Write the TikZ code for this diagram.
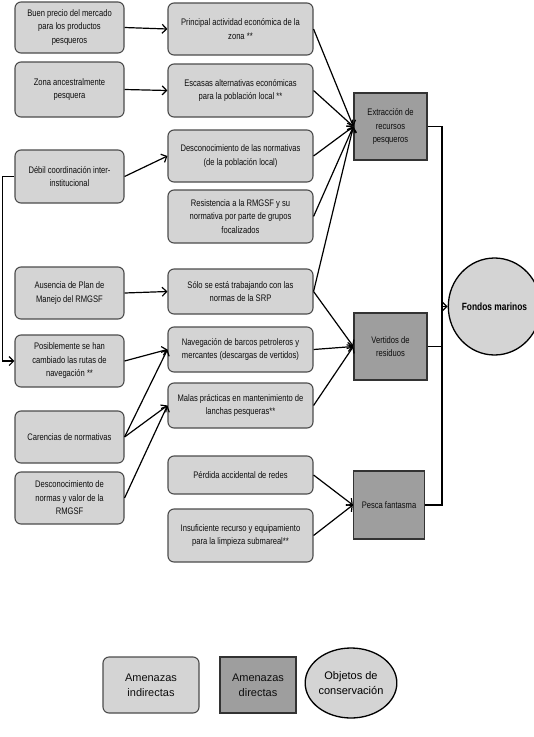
\documentclass[tikz,border=0pt]{standalone}
\usepackage{fontspec}
\setmainfont{Liberation Sans}
\newfontfamily\narrow[FakeStretch=0.8]{Liberation Sans}
\usepackage{tikz}
\usepackage{xcolor}
\usetikzlibrary{positioning,arrows.meta,shapes.geometric,calc}
\definecolor{grisclaro}{gray}{0.83}
\definecolor{grisoscuro}{gray}{0.62}

\begin{document}
\begin{tikzpicture}[x=1pt, y=-1pt,
    indirecta/.style={rectangle, rounded corners=6pt, draw=black!70, line width=1.1pt, fill=grisclaro, align=center, inner sep=1pt, text=black!95, font=\narrow\fontsize{9.5}{13.5}\selectfont},
    izq/.style={indirecta, minimum width=109pt, minimum height=52pt},
    med/.style={indirecta, minimum width=145pt, minimum height=52pt},
    directa/.style={rectangle, draw=black!80, line width=1.3pt, fill=grisoscuro, align=center, inner sep=1pt, minimum width=73pt, minimum height=67pt, text=black!95, font=\narrow\fontsize{9.5}{13.5}\selectfont},
    objeto/.style={ellipse, draw=black, line width=1.3pt, fill=grisclaro, align=center, inner sep=0pt},
    flecha/.style={line width=1.2pt, -{Straight Barb[length=4.5pt,width=9pt]}},
    linea/.style={line width=1.2pt}]
        \useasboundingbox (0,0) rectangle (534,737);

        % Amenazas indirectas (columna izquierda)
        \node[izq, minimum height=51pt] (buen) at (69.5,27.5) {Buen precio del mercado\\para los productos\\pesqueros};
        \node[izq, minimum height=55pt] (zona) at (69.5,89.5) {Zona ancestralmente\\pesquera};
        \node[izq, minimum height=53pt] (debil) at (69.5,176.5) {Débil coordinación inter-\\institucional};
        \node[izq] (ausencia) at (69.5,293) {Ausencia de Plan de\\Manejo del RMGSF};
        \node[izq] (posible) at (69.5,361) {Posiblemente se han\\cambiado las rutas de\\navegación **};
        \node[izq] (carencias) at (69.5,437) {Carencias de normativas};
        \node[izq] (desnormas) at (69.5,498) {Desconocimiento de\\normas y valor de la\\RMGSF};

        % Amenazas indirectas (columna central)
        \node[med] (principal) at (240.5,29) {Principal actividad económica de la\\zona **};
        \node[med, minimum height=53pt] (escasas) at (240.5,90.5) {Escasas alternativas económicas\\para la población local **};
        \node[med] (descon) at (240.5,156) {Desconocimiento de las normativas\\(de la población local)};
        \node[med, minimum height=53pt] (resist) at (240.5,216.5) {Resistencia a la RMGSF y su\\normativa por parte de grupos\\focalizados};
        \node[med, minimum height=45pt] (solo) at (240.5,291.5) {Sólo se está trabajando con las\\normas de la SRP};
        \node[med, minimum height=45pt] (naveg) at (240.5,349.5) {Navegación de barcos petroleros y\\mercantes (descargas de vertidos)};
        \node[med, minimum height=45pt] (malas) at (240.5,405.5) {Malas prácticas en mantenimiento de\\lanchas pesqueras**};
        \node[med, minimum height=38pt] (perdida) at (240.5,475) {Pérdida accidental de redes};
        \node[med, minimum height=53pt] (insuf) at (240.5,535.5) {Insuficiente recurso y equipamiento\\para la limpieza submareal**};

        % Amenazas directas
        \node[directa] (extrac) at (390.5,126.5) {Extracción de\\recursos\\pesqueros};
        \node[directa] (vertidos) at (390.5,346.5) {Vertidos de\\residuos};
        \node[directa, minimum width=71pt, minimum height=68pt] (pesca) at (389,505) {Pesca fantasma};

        % Objeto de conservacion
        \node[objeto, minimum width=75pt, minimum height=97pt, font=\narrow\bfseries\fontsize{10.5}{13}\selectfont] (fondos) at (494.5,306.5) {Fondos marinos};

        % Draw edges
        \draw[flecha] (buen.east) -- (principal.west);
        \draw[flecha] (zona.east) -- (escasas.west);
        \draw[flecha] (debil.east) -- (descon.west);
        \draw[flecha] (debil.west) -- ++(-12,0) |- (posible.west);
        \draw[flecha] (ausencia.east) -- (solo.west);
        \draw[flecha] (posible.east) -- (naveg.west);
        \draw[flecha] (carencias.east) -- (naveg.west);
        \draw[flecha] (carencias.east) -- (malas.west);
        \draw[flecha] (desnormas.east) -- (malas.west);

        \draw[flecha] (principal.east) -- (extrac.west);
        \draw[flecha] (escasas.east) -- (extrac.west);
        \draw[flecha] (descon.east) -- (extrac.west);
        \draw[flecha] (resist.east) -- (extrac.west);
        \draw[flecha] (solo.east) -- (extrac.west);
        \draw[flecha] (solo.east) -- (vertidos.west);
        \draw[flecha] (naveg.east) -- (vertidos.west);
        \draw[flecha] (malas.east) -- (vertidos.west);
        \draw[flecha] (perdida.east) -- (pesca.west);
        \draw[flecha] (insuf.east) -- (pesca.west);

        \coordinate (union) at (442,306.5);
        \draw[linea] (extrac.east) -| (union);
        \draw[linea] (vertidos.east) -| (union);
        \draw[linea] (pesca.east) -| (union);
        \draw[flecha] (union) -- (fondos.west);

        % Leyenda
        \node[indirecta, minimum width=96pt, minimum height=56pt, font=\fontsize{11}{15}\selectfont] (leyind) at (151,685) {Amenazas\\indirectas};
        \node[directa, minimum width=76pt, minimum height=56pt, font=\fontsize{11}{15}\selectfont] (leydir) at (258,685) {Amenazas\\directas};
        \node[objeto, minimum width=76pt, minimum height=70pt, font=\fontsize{11}{15}\selectfont] (leyobj) at (351,683) {Objetos de\\conservación};
      \end{tikzpicture}
\end{document}
